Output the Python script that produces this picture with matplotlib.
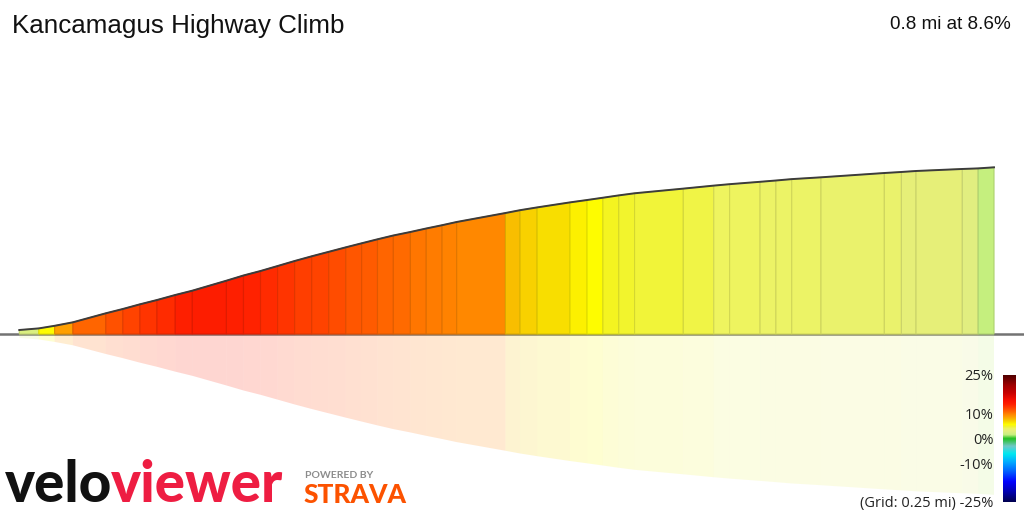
import numpy as np
import matplotlib
matplotlib.use("Agg")
import matplotlib.pyplot as plt
from matplotlib.colors import LinearSegmentedColormap
from matplotlib.patches import Polygon

title = "Kancamagus Highway Climb"
summary = "0.8 mi at 8.6%"

# segment boundaries along the climb (mi) and elevation above the base line (ft)
dist = [0.000, 0.016, 0.029, 0.044, 0.071, 0.085, 0.099, 0.113, 0.128, 0.142,
        0.170, 0.184, 0.198, 0.212, 0.226, 0.240, 0.254, 0.268, 0.281, 0.294,
        0.307, 0.321, 0.334, 0.347, 0.359, 0.399, 0.411, 0.425, 0.452, 0.466,
        0.479, 0.492, 0.505, 0.545, 0.570, 0.583, 0.608, 0.621, 0.634, 0.658,
        0.710, 0.724, 0.736, 0.774, 0.787, 0.800]
elev = [8.9, 12.5, 18.3, 26.1, 46.2, 55.8, 66.2, 75.8, 87.0, 96.6,
        118.9, 130.5, 140.5, 151.6, 162.8, 173.3, 183.3, 193.3, 202.3, 211.2,
        219.7, 227.5, 235.3, 242.6, 249.8, 269.8, 276.1, 282.3, 293.5, 298.8,
        303.9, 309.1, 313.8, 324.2, 330.9, 334.1, 339.4, 342.3, 345.4, 349.4,
        359.0, 361.3, 363.5, 368.0, 369.3, 371.7]
# gradient of each segment (%)
grade = [2.5, 5.5, 8.5, 10.6, 11.5, 12.0, 12.6, 13.0, 13.5, 13.8,
         13.6, 13.3, 12.9, 12.6, 12.3, 12.0, 11.7, 11.3, 11.0, 10.7,
         10.4, 10.1, 9.9, 9.7, 9.4, 7.5, 7.0, 6.5, 6.0, 5.5,
         5.0, 4.8, 4.5, 4.3, 4.1, 4.0, 3.9, 3.9, 3.8, 3.7,
         3.6, 3.2, 3.3, 2.8, 1.5]

cbar_ticks = [25, 10, 0, -10, -25]
cbar_labels = ["25%", "10%", "0%", "-10%", "(Grid: 0.25 mi) -25%"]

# grade colour scale
cmap_stops = [-25, -21, -17, -13, -9, -6, -3, 0, 1.5, 3, 4, 4.5, 5, 5.5,
              6.5, 7.5, 8.5, 9.5, 10.5, 12, 13.5, 15, 18, 21, 25]
cmap_colors = ["#000050", "#0000b0", "#0000ff", "#0060ff", "#00b0ff", "#00e8f0",
               "#70c8c8", "#22c022", "#c8f080", "#e4ee80", "#eef460", "#f0f440",
               "#f4f420", "#ffff00", "#f8e000", "#f8c000", "#ffa000", "#ff8800",
               "#ff6a00", "#ff4400", "#ff2000", "#f81000", "#c80000", "#a00000",
               "#500000"]

W, H = 1024, 512
x_start, x_end, base_y = 19.3, 994.0, 334.0
px_per_mi = (x_end - x_start) / dist[-1]
ft_per_px = 2.23
mirror = 0.965

norm = plt.Normalize(-25, 25)
cmap = LinearSegmentedColormap.from_list(
    "grade", [((s + 25) / 50, c) for s, c in zip(cmap_stops, cmap_colors)])

fig = plt.figure(figsize=(W / 100, H / 100), dpi=100)
ax = fig.add_axes([0, 0, 1, 1])
ax.set_xlim(-x_start / px_per_mi, (W - x_start) / px_per_mi)
ax.set_ylim(-(H - base_y) * ft_per_px, base_y * ft_per_px)
ax.axis("off")

for i, g in enumerate(grade):
    x0, x1 = dist[i], dist[i + 1]
    e0, e1 = elev[i], elev[i + 1]
    col = np.array(cmap(norm(g))[:3])
    ax.add_patch(Polygon([(x0, 0), (x0, e0), (x1, e1), (x1, 0)], closed=True,
                         facecolor=col, edgecolor=col * 0.88, lw=0.8, zorder=3))
    # faded reflection below the base line
    ax.add_patch(Polygon([(x0, 0), (x0, -e0 * mirror), (x1, -e1 * mirror), (x1, 0)],
                         closed=True, facecolor=col, alpha=0.18,
                         edgecolor="none", zorder=2))

ax.plot(dist, elev, color="#3c3c3c", lw=1.4, zorder=5)
ax.axhline(0, color="#737373", lw=1.8, zorder=1)

# legend bar
cax = fig.add_axes([1003 / W, 10 / H, 13 / W, 127 / H])
cax.imshow(np.linspace(25, -25, 256)[:, None], cmap=cmap, norm=norm,
           aspect="auto", extent=[0, 1, -25, 25])
cax.set_xticks([])
cax.set_yticks(cbar_ticks)
cax.set_yticklabels(cbar_labels, family="Open Sans", fontsize=10.5, color="#222222")
cax.tick_params(length=0, pad=7)
for sp in cax.spines.values():
    sp.set_visible(False)

fig.text(12 / W, 1 - 33 / H, title, fontsize=18.7, family="Liberation Sans",
         color="#111111", va="baseline")
fig.text(1011 / W, 1 - 29 / H, summary, fontsize=13.6, family="Liberation Sans",
         color="#111111", va="baseline", ha="right")

# logos
renderer = fig.canvas.get_renderer()
t1 = fig.text(5 / W, 1 - 502 / H, "velo", fontsize=40, family="Lato",
              weight="black", color="#111111", va="baseline")
t2 = fig.text(0, 1 - 502 / H, "viewer", fontsize=40, family="Lato",
              weight="black", color="#ee1d42", va="baseline")
w1 = t1.get_window_extent(renderer).width
w2 = t2.get_window_extent(renderer).width
size = 40 * 280 / (w1 + w2)
t1.set_fontsize(size)
t2.set_fontsize(size)
w1 = t1.get_window_extent(renderer).width
t2.set_x((5 + w1 - 1) / W)

fig.text(305 / W, 1 - 478 / H, "POWERED BY", fontsize=7.5, family="Lato",
         weight="bold", color="#8c8c8c", va="baseline")
fig.text(304 / W, 1 - 503 / H, "STRAVA", fontsize=19, family="Lato",
         weight="black", color="#fc5200", va="baseline")

fig.savefig("out.png", dpi=100)
